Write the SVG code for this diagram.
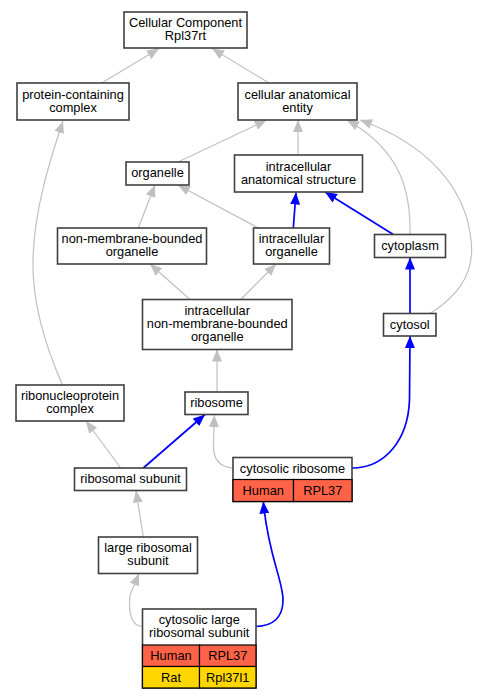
<svg xmlns="http://www.w3.org/2000/svg" width="478" height="699" viewBox="0 0 478 699">
<defs>
<style>
.n rect{fill:#fff;stroke:#404040;stroke-width:1.6}
text{font-family:"Liberation Sans",Arial,sans-serif;font-size:12.8px;text-anchor:middle;fill:#000}
.g{fill:none;stroke:#c0c0c0;stroke-width:1.2}
.b{fill:none;stroke:#0000ff;stroke-width:1.7}
.g{marker-end:url(#ag)}
.b{marker-end:url(#ab)}
rect.red{fill:#ff6347;stroke:#000;stroke-width:1.2}
rect.yel{fill:#ffd700;stroke:#000;stroke-width:1.2}
</style>
<marker id="ag" markerUnits="userSpaceOnUse" viewBox="0 0 12 10" refX="12" refY="5" markerWidth="12" markerHeight="10" orient="auto"><path d="M0,0 L12,5 L0,10 z" fill="#c0c0c0"/></marker>
<marker id="ab" markerUnits="userSpaceOnUse" viewBox="0 0 12 10" refX="12" refY="5" markerWidth="12" markerHeight="10" orient="auto"><path d="M0,0 L12,5 L0,10 z" fill="#0000ff"/></marker>
</defs>
<rect width="478" height="699" fill="#fff"/>
<g id="edges">
<path class="g" d="M101.7,83 L159,48.5"/>
<path class="g" d="M269,83 L212,48.5"/>
<path class="g" d="M178,162 L266.7,120"/>
<path class="g" d="M298,155 L298,120"/>
<path class="g" d="M410,234.5 C411,190 400,150 347,120"/>
<path class="g" d="M430,313.5 C460,295 475,270 471,240 C466,190 430,145 360,120"/>
<path class="g" d="M138.3,228 L155,185"/>
<path class="g" d="M258.3,228 L178,185"/>
<path class="g" d="M190,299.5 L150,264"/>
<path class="g" d="M240.7,299.5 L276,264"/>
<path class="g" d="M217,392 L217,349.5"/>
<path class="g" d="M62.5,385 C45,345 32,300 33,260 C34,210 50,160 63,121"/>
<path class="g" d="M120.7,468 L86,421"/>
<path class="g" d="M233,468 C220,467 213,460 213.5,445 L214.3,415"/>
<path class="g" d="M143.3,537 L136,490.5"/>
<path class="g" d="M142.5,626.5 C132,626 128,615 130,595 L139,573.5"/>
<path class="b" d="M293.3,228 L296,192.5"/>
<path class="b" d="M393.3,234.5 L325,192"/>
<path class="b" d="M410,313.5 L410,257.5"/>
<path class="b" d="M143.3,468 L205,414.5"/>
<path class="b" d="M352,468 C385,468 408,440 409.5,400 L410,336"/>
<path class="b" d="M256,626.5 C272,626 283,618 283,600 C283,580 268,555 263.3,501.5"/>
</g>
<g id="cc" class="n"><rect x="124" y="12" width="123" height="36"/><text x="185.5" y="27">Cellular Component</text><text x="185.5" y="40">Rpl37rt</text></g>
<g id="pcc" class="n"><rect x="17" y="83" width="112" height="37"/><text x="73" y="98.5">protein-containing</text><text x="73" y="111.5">complex</text></g>
<g id="cae" class="n"><rect x="238" y="83" width="119" height="37"/><text x="297.5" y="98.5">cellular anatomical</text><text x="297.5" y="111.5">entity</text></g>
<g id="organelle" class="n"><rect x="126" y="162" width="63" height="23"/><text x="157.5" y="177">organelle</text></g>
<g id="ias" class="n"><rect x="234.5" y="155" width="128" height="37"/><text x="298.5" y="170.5">intracellular</text><text x="298.5" y="183.5">anatomical structure</text></g>
<g id="nmbo" class="n"><rect x="57.5" y="228" width="149" height="36"/><text x="132" y="243">non-membrane-bounded</text><text x="132" y="256">organelle</text></g>
<g id="io" class="n"><rect x="253.5" y="228" width="76" height="36"/><text x="291.5" y="243">intracellular</text><text x="291.5" y="256">organelle</text></g>
<g id="cytoplasm" class="n"><rect x="374.5" y="234.5" width="71" height="23"/><text x="410" y="249.5">cytoplasm</text></g>
<g id="inmbo" class="n"><rect x="142.5" y="299.5" width="149.5" height="50"/><text x="217.25" y="315">intracellular</text><text x="217.25" y="328">non-membrane-bounded</text><text x="217.25" y="341">organelle</text></g>
<g id="cytosol" class="n"><rect x="383.5" y="313.5" width="52.5" height="22.5"/><text x="409.75" y="328.5">cytosol</text></g>
<g id="rnp" class="n"><rect x="16" y="385" width="108" height="36"/><text x="70" y="400">ribonucleoprotein</text><text x="70" y="413">complex</text></g>
<g id="ribosome" class="n"><rect x="185" y="392" width="63" height="22.5"/><text x="216.5" y="407">ribosome</text></g>
<g id="rs" class="n"><rect x="74.5" y="468" width="112" height="22.5"/><text x="130.5" y="483">ribosomal subunit</text></g>
<g id="cr" class="n"><rect x="233" y="457.5" width="119" height="44"/><rect class="red" x="233" y="479.5" width="60.5" height="22"/><rect class="red" x="293.5" y="479.5" width="58.5" height="22"/><text x="292.5" y="472.5">cytosolic ribosome</text><text x="263.25" y="494.5">Human</text><text x="322.75" y="494.5">RPL37</text></g>
<g id="lrs" class="n"><rect x="98.5" y="537" width="99" height="36.5"/><text x="148" y="552">large ribosomal</text><text x="148" y="565">subunit</text></g>
<g id="clrs" class="n"><rect x="142.5" y="609" width="113.5" height="79"/><rect class="red" x="142.5" y="645" width="57" height="21.5"/><rect class="red" x="199.5" y="645" width="56.5" height="21.5"/><rect class="yel" x="142.5" y="666.5" width="57" height="21.5"/><rect class="yel" x="199.5" y="666.5" width="56.5" height="21.5"/><text x="199.25" y="624">cytosolic large</text><text x="199.25" y="637">ribosomal subunit</text><text x="171" y="660">Human</text><text x="227.75" y="660">RPL37</text><text x="171" y="681.5">Rat</text><text x="227.75" y="681.5">Rpl37l1</text></g>
</svg>
